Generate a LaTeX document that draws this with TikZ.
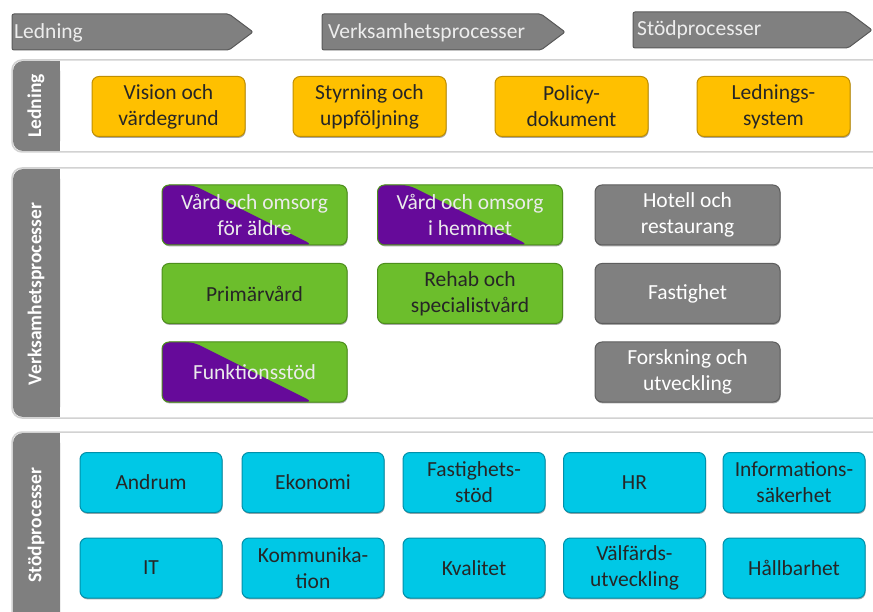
\documentclass[tikz,border=0pt]{standalone}
\usepackage{fontspec}
\setmainfont{Carlito}
\usetikzlibrary{shadows}
\begin{document}
\begin{tikzpicture}[x=1pt,y=-1pt,
  every node/.style={font=\fontsize{21.5}{26}\selectfont, align=center, inner sep=0pt},
  box/.style={rounded corners=7pt, minimum height=60pt, line width=1pt,
    drop shadow={shadow xshift=0.6pt, shadow yshift=-1.4pt, opacity=0.35, fill=black}},
  yel/.style={box, fill=cYel, draw=cYelD, text=black!85, minimum width=153pt},
  grn/.style={box, fill=cGrn, draw=cGrnD, text=black!85, minimum width=185pt},
  gry/.style={box, fill=cGry, draw=cGryD, text=white, minimum width=185pt},
  cyn/.style={box, fill=cCyn, draw=cCynD, text=black!85, minimum width=142pt},
  split/.style={box, fill=cGrn, draw=cGrnD, text=white!92!black, minimum width=185pt,
    path picture={
      \fill[cGrn] (path picture bounding box.south west) rectangle (path picture bounding box.north east);
      \fill[cPur] (path picture bounding box.north west) -- ([xshift=31pt]path picture bounding box.north west)
        -- ([xshift=-34pt]path picture bounding box.south east) -- (path picture bounding box.south west) -- cycle;}},
  arr/.style={fill=cArr, draw=cArrD, line width=1pt, rounded corners=2pt},
  arrtxt/.style={anchor=west, text=white!93!black},
  band/.style={fill=white, draw=cBand, line width=1.5pt},
  tab/.style={fill=cTab, draw=none},
  vlab/.style={rotate=90, text=white, font=\fontsize{19.5}{22}\bfseries\selectfont}
]
\definecolor{cYel}{HTML}{FFC000}
\definecolor{cYelD}{HTML}{C08F00}
\definecolor{cGrn}{HTML}{6CBE2C}
\definecolor{cGrnD}{HTML}{4D8F1C}
\definecolor{cPur}{HTML}{660A9A}
\definecolor{cGry}{HTML}{808080}
\definecolor{cGryD}{HTML}{5E5E5E}
\definecolor{cCyn}{HTML}{00C8E6}
\definecolor{cCynD}{HTML}{0090AA}
\definecolor{cArr}{HTML}{808080}
\definecolor{cArrD}{HTML}{5A5A5A}
\definecolor{cTab}{HTML}{7F7F7F}
\definecolor{cBand}{HTML}{D2D2D2}

\useasboundingbox (0,0) rectangle (873,612);
\clip (0,0) rectangle (873,612);
\fill[white] (0,0) rectangle (873,612);

% top arrows
\draw[arr] (12,14) -- (229,14) -- (253,32) -- (229,50) -- (12,50) -- cycle;
\node[arrtxt] (a1) at (14,33) {Ledning};
\draw[arr] (322,14) -- (541,14) -- (565,32) -- (541,50) -- (322,50) -- cycle;
\node[arrtxt] (a2) at (328,33) {Verksamhetsprocesser};
\draw[arr] (633,12) -- (848,12) -- (872,30) -- (848,48) -- (633,48) -- cycle;
\node[arrtxt] (a3) at (637,30) {Stödprocesser};

% bands
\draw[band, rounded corners=10pt] (12,60) rectangle (890,152);
\fill[tab, rounded corners=10pt] (13,61) -- (60,61) -- (60,151) -- (13,151) -- cycle;
\fill[tab] (40,61) rectangle (60,151);
\node[vlab] (l1) at (36,106) {Ledning};

\draw[band, rounded corners=10pt] (12,168) rectangle (890,418);
\fill[tab, rounded corners=10pt] (13,169) -- (60,169) -- (60,417) -- (13,417) -- cycle;
\fill[tab] (40,169) rectangle (60,417);
\node[vlab] (l2) at (36,294) {Verksamhetsprocesser};

\draw[band, rounded corners=10pt] (12,432) rectangle (890,640);
\fill[tab, rounded corners=10pt] (13,433) -- (60,433) -- (60,640) -- (13,640) -- cycle;
\fill[tab] (40,433) rectangle (60,640);
\node[vlab] (l3) at (36,525) {Stödprocesser};

% Ledning
\node[yel] (y1) at (168.5,106.5) {Vision och\\värdegrund};
\node[yel] (y2) at (369.5,106.5) {Styrning och\\uppföljning};
\node[yel] (y3) at (571.5,106.5) {Policy-\\dokument};
\node[yel] (y4) at (773.5,106.5) {Lednings-\\system};

% Verksamhet
\node[split] (v1) at (254.5,215) {Vård och omsorg\\för äldre};
\node[split] (v2) at (470,215) {Vård och omsorg\\i hemmet};
\node[gry] (v3) at (687.5,215) {Hotell och\\restaurang};
\node[grn] (v4) at (254.5,293.5) {Primärvård};
\node[grn] (v5) at (470,293.5) {Rehab och\\specialistvård};
\node[gry] (v6) at (687.5,293.5) {Fastighet};
\node[split] (v7) at (254.5,372) {Funktionsstöd};
\node[gry] (v9) at (687.5,372) {Forskning och\\utveckling};

% Stöd
\node[cyn] (s1) at (151,482.5) {Andrum};
\node[cyn] (s2) at (313,482.5) {Ekonomi};
\node[cyn] (s3) at (474,482.5) {Fastighets-\\stöd};
\node[cyn] (s4) at (634.5,482.5) {HR};
\node[cyn] (s5) at (794,482.5) {Informations-\\säkerhet};
\node[cyn] (s6) at (151,568) {IT};
\node[cyn] (s7) at (313,568) {Kommunika-\\tion};
\node[cyn] (s8) at (474,568) {Kvalitet};
\node[cyn] (s9) at (634.5,568) {Välfärds-\\utveckling};
\node[cyn] (s10) at (794,568) {Hållbarhet};
\end{tikzpicture}
\end{document}
